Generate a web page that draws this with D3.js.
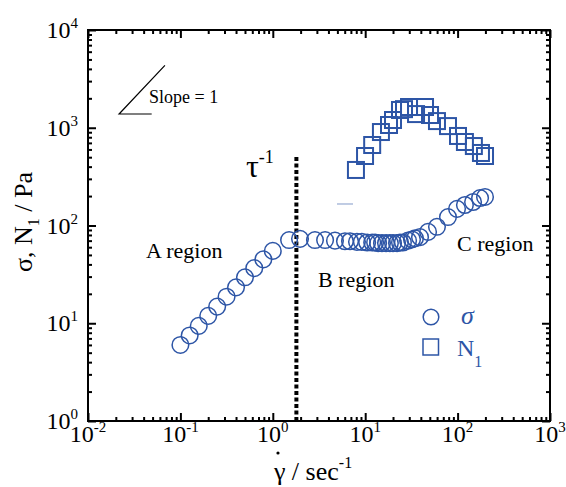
<!DOCTYPE html>
<html>
<head>
<meta charset="utf-8">
<title>Flow curve</title>
<script src="https://d3js.org/d3.v7.min.js"></script>
<style>
  body { margin: 0; background: #fff; }
  svg text { font-family: "Liberation Serif", "Times New Roman", serif; }
</style>
</head>
<body>
<svg width="566" height="487"></svg>
<script>
// shear rate (1/s) and shear stress sigma (Pa)
var sigmaRate = [0.1, 0.126, 0.158, 0.2, 0.25, 0.316, 0.4, 0.5, 0.63, 0.79, 1.0,
  1.5, 1.97, 2.86, 3.68, 4.71, 6.04, 6.85, 8.15, 9.2, 10.5, 11.9, 12.8, 13.8, 15.2,
  16.8, 18.5, 20, 22.1, 23.8, 25.6, 29.1, 32.1, 34.6, 39.2, 47.9, 59.8, 78.7, 98.6,
  120, 147, 175, 198];
var sigmaStress = [6.0, 7.5, 9.4, 11.9, 14.8, 18.7, 23.3, 29.5, 36.6, 45, 55,
  71, 73, 71, 71, 70, 69, 69, 68, 68, 67, 67, 67, 66, 66,
  66, 66, 66, 66, 67, 67, 70, 72, 74, 76, 86, 97, 122, 148,
  162, 174, 191, 196];

// first normal stress difference N1 (Pa)
var n1Rate = [7.94, 9.96, 11.9, 14.8, 18.1, 20.0, 23.8, 26.3, 29.8, 35.5, 44.4,
  50.3, 59.8, 78.7, 101, 120, 150, 179, 198];
var n1Value = [370, 514, 666, 904, 1067, 1200, 1520, 1550, 1630, 1380, 1630,
  1350, 1170, 1040, 824, 715, 650, 552, 514];

var xTicks = [0.01, 0.1, 1, 10, 100, 1000];
var xTickExp = ["-2", "-1", "0", "1", "2", "3"];
var yTicks = [1, 10, 100, 1000, 10000];
var yTickExp = ["0", "1", "2", "3", "4"];

var tauRate = 1.8;        // tau^-1 marker
var tauTop = 525;
var slopeStart = [0.0217, 1383];
var slopeEnd = [0.068, 4340];
var slopeFoot = 0.0489;

var blue = "#2d55a6";

var svg = d3.select("svg"),
  margin = {top: 30, right: 16, bottom: 66, left: 88},
  width = +svg.attr("width") - margin.left - margin.right,
  height = +svg.attr("height") - margin.top - margin.bottom;

var x = d3.scaleLog().domain([0.01, 1000]).range([0, width]),
  y = d3.scaleLog().domain([1, 10000]).range([height, 0]);

var g = svg.append("g")
  .attr("transform", "translate(" + margin.left + "," + margin.top + ")");

// minor tick values 2..9 per decade
function minors(lo, hi) {
  var out = [];
  for (var d = lo; d < hi; d *= 10)
    for (var k = 2; k < 10; k++) out.push(d * k);
  return out;
}
var xMinor = minors(0.01, 1000), yMinor = minors(1, 10000);

function tickAxis(axis, vals, size, tr) {
  var a = g.append("g")
    .attr("class", "axis")
    .attr("transform", tr || null)
    .call(axis.tickValues(vals).tickSizeInner(size).tickSizeOuter(0).tickFormat(""));
  a.select(".domain").remove();
  a.selectAll("line").attr("stroke", "#000").attr("stroke-width", 2);
  return a;
}

tickAxis(d3.axisBottom(x), xTicks, -8, "translate(0," + height + ")");
tickAxis(d3.axisBottom(x), xMinor, -4, "translate(0," + height + ")");
tickAxis(d3.axisTop(x), xTicks, -8);
tickAxis(d3.axisTop(x), xMinor, -4);
tickAxis(d3.axisLeft(y), yTicks, -8);
tickAxis(d3.axisLeft(y), yMinor, -4);
tickAxis(d3.axisRight(y), yTicks, -8, "translate(" + width + ",0)");
tickAxis(d3.axisRight(y), yMinor, -4, "translate(" + width + ",0)");

g.append("rect")
  .attr("width", width)
  .attr("height", height)
  .attr("fill", "none")
  .attr("stroke", "#000")
  .attr("stroke-width", 2);

// tick labels with superscript exponents
xTicks.forEach(function(v, i) {
  var t = g.append("text")
    .attr("x", x(v))
    .attr("y", height + 21)
    .attr("text-anchor", "middle")
    .style("font-size", "24px");
  t.append("tspan").text("10");
  t.append("tspan").attr("dy", -10).style("font-size", "15px").text(xTickExp[i]);
});

yTicks.forEach(function(v, i) {
  var t = g.append("text")
    .attr("x", -10)
    .attr("y", y(v) + 8)
    .attr("text-anchor", "end")
    .style("font-size", "24px");
  t.append("tspan").text("10");
  t.append("tspan").attr("dy", -10).style("font-size", "15px").text(yTickExp[i]);
});

// axis titles
var yt = svg.append("text")
  .attr("transform", "translate(32,222) rotate(-90)")
  .attr("text-anchor", "middle")
  .style("font-size", "26px");
yt.append("tspan").text("σ, N");
yt.append("tspan").attr("dy", 7).style("font-size", "16px").text("1");
yt.append("tspan").attr("dy", -7).text(" / Pa");

var xt = svg.append("text")
  .attr("x", 313)
  .attr("y", 480)
  .attr("text-anchor", "middle")
  .style("font-size", "26px");
xt.append("tspan").text("γ / sec");
xt.append("tspan").attr("dy", -12).style("font-size", "16px").text("-1");
svg.append("circle").attr("cx", 278).attr("cy", 453).attr("r", 1.6).attr("fill", "#000");

// tau^-1 dotted line
g.append("line")
  .attr("x1", x(tauRate)).attr("x2", x(tauRate))
  .attr("y1", y(1)).attr("y2", y(tauTop))
  .attr("stroke", "#000")
  .attr("stroke-width", 4)
  .attr("stroke-dasharray", "4,2.5");

var tt = g.append("text")
  .attr("x", 246 - margin.left)
  .attr("y", 177 - margin.top)
  .style("font-size", "32px");
tt.append("tspan").text("τ");
tt.append("tspan").attr("dy", -14).style("font-size", "18px").text("-1");

// slope triangle
g.append("path")
  .attr("d", "M" + x(slopeFoot) + "," + y(slopeStart[1]) +
    "L" + x(slopeStart[0]) + "," + y(slopeStart[1]) +
    "L" + x(slopeEnd[0]) + "," + y(slopeEnd[1]))
  .attr("fill", "none")
  .attr("stroke", "#000")
  .attr("stroke-width", 1.2);

svg.append("text").attr("x", 149).attr("y", 103).style("font-size", "18px").text("Slope = 1");

// region labels
svg.append("text").attr("x", 146).attr("y", 258).style("font-size", "22px").text("A region");
svg.append("text").attr("x", 318).attr("y", 287).style("font-size", "22px").text("B region");
svg.append("text").attr("x", 457).attr("y", 251).style("font-size", "22px").text("C region");

// N1 squares
var sq = 16;
g.selectAll(".sq")
  .data(n1Rate)
  .enter().append("rect")
  .attr("class", "sq")
  .attr("x", function(d) { return x(d) - sq / 2; })
  .attr("y", function(d, i) { return y(n1Value[i]) - sq / 2; })
  .attr("width", sq)
  .attr("height", sq)
  .attr("fill", "none")
  .attr("stroke", blue)
  .attr("stroke-width", 2);

// faint stray segment
g.append("line")
  .attr("x1", x(4.95)).attr("x2", x(7.38))
  .attr("y1", y(166)).attr("y2", y(166))
  .attr("stroke", blue).attr("stroke-opacity", 0.5).attr("stroke-width", 1.2);

// sigma circles
g.selectAll(".pt")
  .data(sigmaRate)
  .enter().append("circle")
  .attr("class", "pt")
  .attr("cx", function(d) { return x(d); })
  .attr("cy", function(d, i) { return y(sigmaStress[i]); })
  .attr("r", 8.3)
  .attr("fill", "none")
  .attr("stroke", blue)
  .attr("stroke-width", 1.5);

// legend
svg.append("circle").attr("cx", 431).attr("cy", 317).attr("r", 7.8)
  .attr("fill", "none").attr("stroke", blue).attr("stroke-width", 1.5);
svg.append("text").attr("x", 461).attr("y", 324)
  .style("font-size", "26px").style("font-style", "italic").attr("fill", blue).text("σ");
svg.append("rect").attr("x", 423).attr("y", 339).attr("width", 15.5).attr("height", 16)
  .attr("fill", "none").attr("stroke", blue).attr("stroke-width", 1.5);
var ln = svg.append("text").attr("x", 457).attr("y", 356)
  .style("font-size", "24px").attr("fill", blue);
ln.append("tspan").text("N");
ln.append("tspan").attr("dy", 11).style("font-size", "16px").text("1");
</script>
</body>
</html>
